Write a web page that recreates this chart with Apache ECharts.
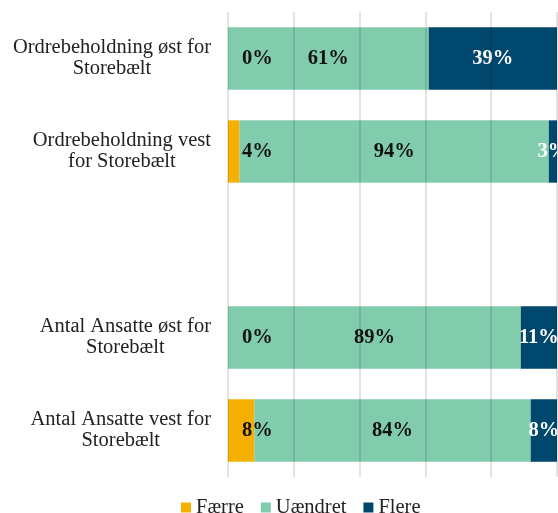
<!DOCTYPE html>
<html>
<head>
<meta charset="utf-8">
<script src="https://cdn.jsdelivr.net/npm/echarts@6/dist/echarts.min.js"></script>
<style>
  html, body { margin: 0; padding: 0; background: #fff; }
  #chart { width: 558px; height: 513px; }
</style>
</head>
<body>
<div id="chart"></div>
<script>
  // kategorier (tom plads mellem de to grupper)
  const categories = [
    'Ordrebeholdning øst for\nStorebælt',
    'Ordrebeholdning vest\nfor Storebælt',
    '',
    'Antal Ansatte øst for\nStorebælt',
    'Antal Ansatte vest for\nStorebælt'
  ];
  const faerre = [0, 3.5, '-', 0, 8];
  const uaendret = [61, 94, '-', 89, 84];
  const flere = [39, 2.5, '-', 11, 8];
  const xTicks = [0, 20, 40, 60, 80, 100];

  const font = 'Liberation Serif';
  const chart = echarts.init(document.getElementById('chart'));

  function labelStyle(color, pos, dist) {
    return {
      show: true,
      position: pos,
      distance: dist,
      color: color,
      fontFamily: font,
      fontWeight: 'bold',
      fontSize: 20.5,
      formatter: p => Math.round(p.value) + '%'
    };
  }

  chart.setOption({
    backgroundColor: '#fff',
    animation: false,
    grid: { left: 228, right: 1, top: 12, bottom: 36 },
    legend: {
      left: 181,
      top: 497,
      padding: 0,
      itemWidth: 10,
      itemHeight: 10,
      itemGap: 17,
      icon: 'rect',
      textStyle: { fontFamily: font, fontSize: 20.5, color: '#222' },
      data: ['Færre', 'Uændret', 'Flere']
    },
    xAxis: {
      type: 'value',
      min: xTicks[0],
      max: xTicks[xTicks.length - 1],
      interval: 20,
      z: 3,
      axisLabel: { show: false },
      axisLine: { show: false },
      axisTick: { show: false },
      splitLine: { lineStyle: { color: 'rgba(0,0,0,0.15)', width: 1.5 } }
    },
    yAxis: {
      type: 'category',
      inverse: true,
      data: categories,
      axisLine: { show: false },
      axisTick: { show: false },
      axisLabel: {
        margin: 17,
        align: 'right',
        color: '#222',
        formatter: v => v ? v.split('\n').map(s => '{c|' + s + '}').join('\n') : '',
        rich: {
          c: { align: 'center', fontFamily: font, fontSize: 20.5, lineHeight: 21, color: '#222' }
        }
      }
    },
    series: [
      {
        name: 'Færre', type: 'bar', stack: 'i alt', barCategoryGap: '33%',
        itemStyle: { color: '#F5B000' },
        label: labelStyle('#111', 'insideLeft', 14),
        data: faerre
      },
      {
        name: 'Uændret', type: 'bar', stack: 'i alt',
        itemStyle: { color: '#82CCAE' },
        label: labelStyle('#111', 'inside'),
        data: uaendret
      },
      {
        name: 'Flere', type: 'bar', stack: 'i alt',
        itemStyle: { color: '#00476E' },
        label: labelStyle('#fff', 'inside'),
        data: flere
      }
    ]
  });
</script>
</body>
</html>
